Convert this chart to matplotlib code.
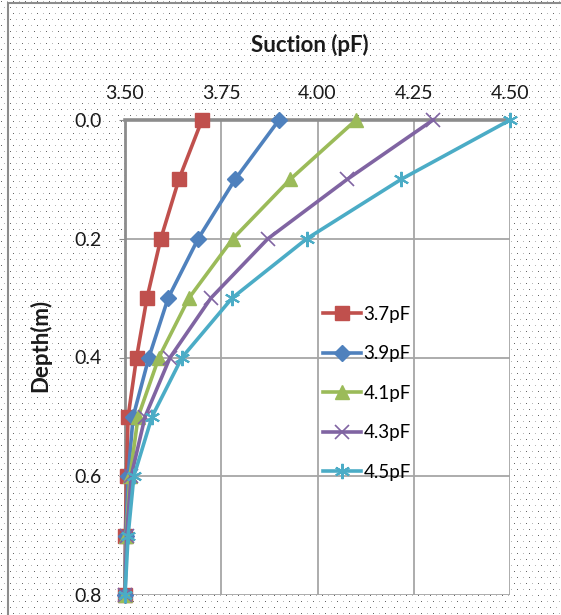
import numpy as np
import matplotlib
matplotlib.use("Agg")
import matplotlib.pyplot as plt
from matplotlib.patches import Rectangle

plt.rcParams['font.family'] = ['Lato', 'DejaVu Sans']

depth = [0.0, 0.1, 0.2, 0.3, 0.4, 0.5, 0.6, 0.7, 0.8]
s37 = [3.70, 3.64, 3.593, 3.557, 3.530, 3.508, 3.504, 3.501, 3.50]
s39 = [3.90, 3.786, 3.690, 3.612, 3.562, 3.521, 3.508, 3.502, 3.50]
s41 = [4.10, 3.929, 3.780, 3.666, 3.588, 3.534, 3.513, 3.503, 3.50]
s43 = [4.30, 4.077, 3.871, 3.723, 3.617, 3.552, 3.516, 3.504, 3.50]
s45 = [4.50, 4.217, 3.972, 3.778, 3.648, 3.570, 3.523, 3.508, 3.50]
labels = ['3.7pF', '3.9pF', '4.1pF', '4.3pF', '4.5pF']
xticks = [3.50, 3.75, 4.00, 4.25, 4.50]
yticks = [0.0, 0.2, 0.4, 0.6, 0.8]

W, H = 561, 615
fig = plt.figure(figsize=(W / 100, H / 100), dpi=100)

# dotted chart-area background
bg = np.ones((H, W, 3))
for yy in range(1, H, 6):
    off = 0 if (yy // 6) % 2 == 0 else 3
    for xx in range(off + 1, W, 6):
        c = 0.40 if ((xx + yy) // 6) % 2 == 0 else 0.72
        bg[yy, xx, :] = c
fig.figimage(bg, 0, 0, origin='upper', zorder=-5)

# chart border
fig.add_artist(Rectangle((8 / W, -0.05), 1.2, 1 - 3 / H + 0.05, transform=fig.transFigure,
                         fill=False, edgecolor='#8c8c8c', linewidth=1.5, zorder=1))

ax = fig.add_axes([125 / W, 1 - 595 / H, 385 / W, 475 / H])
ax.set_zorder(3)
ax.set_facecolor('white')

styles = [
    (s37, '#C0504D', 's', 10, None),
    (s39, '#4F81BD', 'D', 8, None),
    (s41, '#9BBB59', '^', 10, None),
    (s43, '#8064A2', 'x', 10, 1.2),
    (s45, '#4BACC6', (6, 2, 0), 11, 1.5),
]
for (vals, col, mk, ms, mew), lab in zip(styles, labels):
    kw = dict(markeredgewidth=mew) if mew else dict(markeredgecolor=col)
    ax.plot(vals, depth, color=col, linewidth=2.6, marker=mk, markersize=ms,
            markerfacecolor=col, label=lab, zorder=3, clip_on=False, **kw)

ax.set_xlim(3.5, 4.5)
ax.set_ylim(0.8, 0.0)
ax.set_xticks(xticks)
ax.set_xticklabels([f'{v:.2f}' for v in xticks])
ax.set_yticks(yticks)
ax.set_yticklabels([f'{v:.1f}' for v in yticks])
ax.xaxis.tick_top()
ax.tick_params(axis='x', length=0, pad=13, labelsize=14, colors='#1a1a1a')
ax.tick_params(axis='y', length=4, pad=13, labelsize=14, colors='#1a1a1a')
ax.tick_params(axis='both', color='#8c8c8c')
ax.grid(True, color='#a6a6a6', linewidth=1.3, zorder=1)
ax.set_axisbelow(True)
for s in ['right', 'bottom']:
    ax.spines[s].set_visible(False)
ax.spines['top'].set_color('#8c8c8c')
ax.spines['top'].set_linewidth(2.6)
ax.spines['left'].set_color('#8c8c8c')
ax.spines['left'].set_linewidth(2.0)

leg = ax.legend(loc='upper left', bbox_to_anchor=(0.495, 0.625), frameon=False,
                fontsize=13.5, handlelength=2.0, handletextpad=0.15, labelspacing=1.2,
                borderaxespad=0)

fig.text(310 / W, 1 - 45 / H, 'Suction (pF)', ha='center', va='center',
         fontsize=16, fontweight='bold', color='#1a1a1a')
fig.text(40 / W, 1 - 345 / H, 'Depth(m)', ha='center', va='center', rotation=90,
         fontsize=16, fontweight='bold', color='#1a1a1a')

fig.savefig('out.png', dpi=100)
